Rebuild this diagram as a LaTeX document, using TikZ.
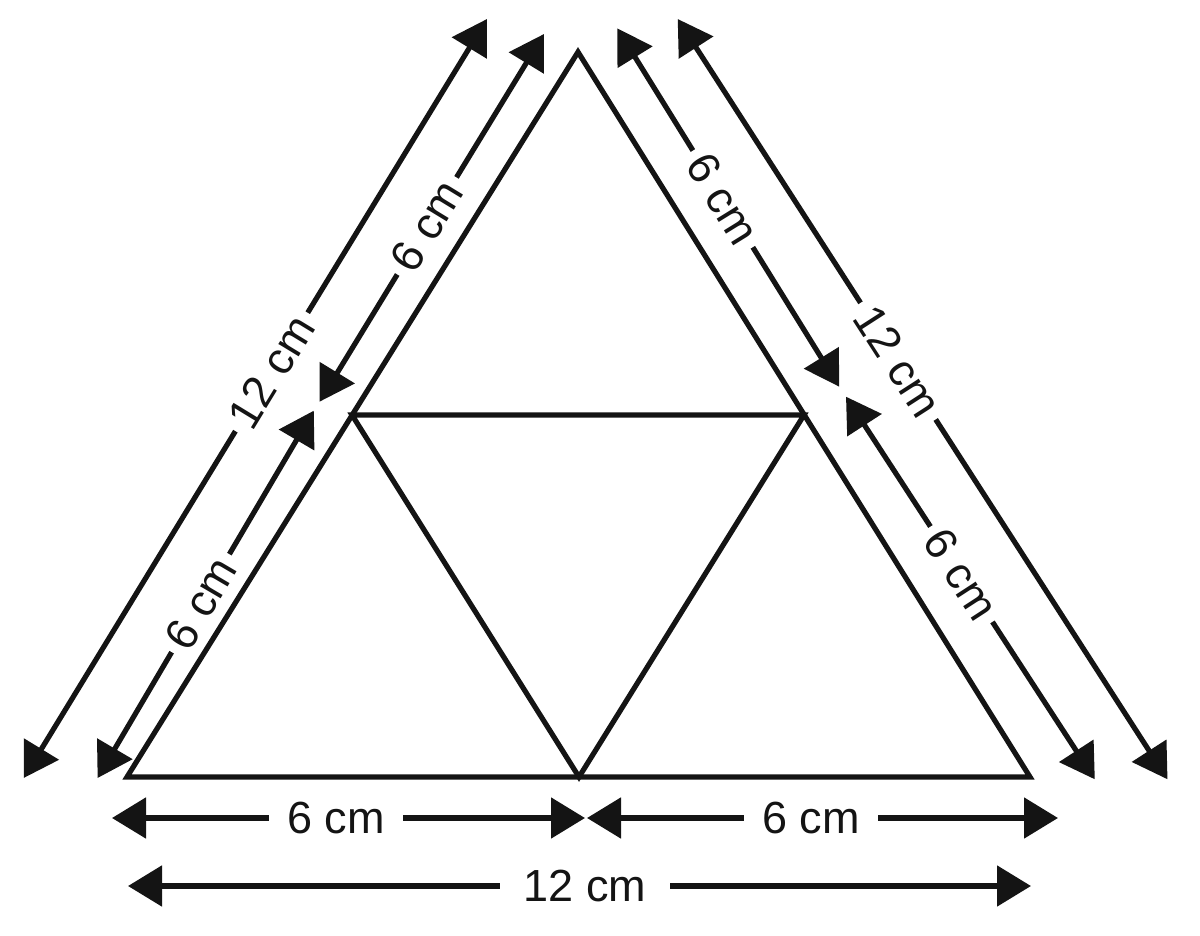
\documentclass[tikz,border=0pt]{standalone}
\usepackage{fontspec}
\setmainfont{Liberation Sans}
\usetikzlibrary{arrows.meta,positioning}
\definecolor{ink}{RGB}{20,20,20}

\begin{document}
\begin{tikzpicture}[x=0.5pt,y=-0.5pt,
  lato/.style={draw=ink, line width=2.6pt, line join=miter},
  quota/.style={draw=ink, line width=2.6pt, {Triangle[length=17pt,width=20pt]}-{Triangle[length=17pt,width=20pt]}},
  misura/.style={fill=white, text=ink, inner xsep=4pt, inner ysep=1pt, font=\fontsize{22.5}{24}\selectfont}]
\useasboundingbox (0,0) rectangle (1200,936);

% Triangolo
\coordinate (A) at (127,777);
\coordinate (B) at (1030,777);
\coordinate (C) at (578,52);
\coordinate (mAB) at (579,777);
\coordinate (mBC) at (804,415);
\coordinate (mCA) at (352,415);
\draw[lato] (A) -- (B) -- (C) -- cycle;
\draw[lato] (mCA) -- (mBC) -- (mAB) -- cycle;

% Quote a sinistra
\coordinate (s1) at (23.7,778);   \coordinate (s2) at (487,19);
\coordinate (s3) at (97.6,778);   \coordinate (s4) at (313.8,410.7);
\coordinate (s5) at (319.6,401.7); \coordinate (s6) at (544,34);
\draw[quota] (s1) -- node[misura, sloped, pos=0.535] {12 cm} (s2);
\draw[quota] (s3) -- node[misura, sloped, pos=0.476] {6 cm} (s4);
\draw[quota] (s5) -- node[misura, sloped, pos=0.478] {6 cm} (s6);

% Quote a destra
\coordinate (d1) at (677.7,19);   \coordinate (d2) at (1167.5,779.3);
\coordinate (d3) at (617.2,28.3); \coordinate (d4) at (839.2,386.7);
\coordinate (d5) at (846,396.7);  \coordinate (d6) at (1094.8,779.3);
\draw[quota] (d1) -- node[misura, sloped, pos=0.45] {12 cm} (d2);
\draw[quota] (d3) -- node[misura, sloped, pos=0.476] {6 cm} (d4);
\draw[quota] (d5) -- node[misura, sloped, pos=0.464] {6 cm} (d6);

% Quote in basso
\coordinate (b1) at (112,818);  \coordinate (b2) at (585,818);
\coordinate (b3) at (587,818);  \coordinate (b4) at (1058,818);
\coordinate (b5) at (128,886);  \coordinate (b6) at (1031,886);
\draw[quota] (b1) -- node[misura, inner xsep=9pt, pos=0.474] {6 cm} (b2);
\draw[quota] (b3) -- node[misura, inner xsep=9pt, pos=0.476] {6 cm} (b4);
\draw[quota] (b5) -- node[misura, inner xsep=12pt, pos=0.506] {12 cm} (b6);
\end{tikzpicture}
\end{document}
